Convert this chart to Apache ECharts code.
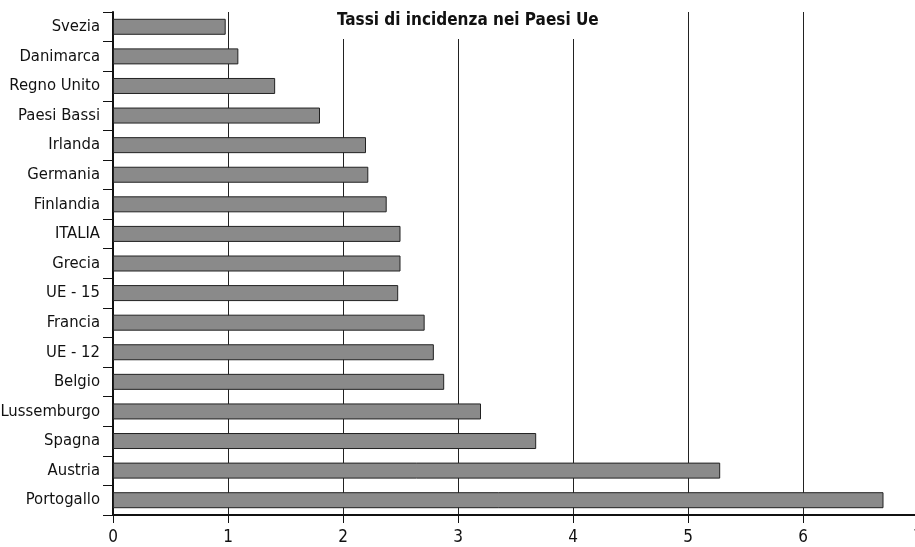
<!DOCTYPE html>
<html><head><meta charset="utf-8">
<script src="https://cdn.jsdelivr.net/npm/echarts@6/dist/echarts.min.js"></script>
<style>html,body{margin:0;padding:0;background:#fff}#c{width:915px;height:547px}</style>
</head><body><div id="c"></div>
<script>
const categories = ['Svezia','Danimarca','Regno Unito','Paesi Bassi','Irlanda','Germania','Finlandia','ITALIA','Grecia','UE - 15','Francia','UE - 12','Belgio','Lussemburgo','Spagna','Austria','Portogallo'];
const values = [0.98,1.09,1.41,1.80,2.20,2.22,2.38,2.50,2.50,2.48,2.71,2.79,2.88,3.20,3.68,5.28,6.70];
const xTicks = [0,1,2,3,4,5,6,7];
const titleText = 'Tassi di incidenza nei Paesi Ue';
const FONT = '"Liberation Sans Narrow","DejaVu Sans Condensed",sans-serif';
const chart = echarts.init(document.getElementById('c'));
chart.setOption({
  animation:false,
  backgroundColor:'#fff',
  title:{text:titleText,left:333,top:9,backgroundColor:'#fff',padding:[3,4,10,4],
    textStyle:{fontFamily:FONT,fontWeight:'bold',fontSize:17,color:'#111'}},
  grid:{left:113,right:-3,top:12,bottom:32,containLabel:false,outerBoundsMode:'none'},
  xAxis:{type:'value',min:xTicks[0],max:xTicks[xTicks.length-1],interval:1,
    axisLine:{show:true,lineStyle:{color:'#111',width:2}},
    axisTick:{show:true,length:8,lineStyle:{color:'#111'}},
    axisLabel:{fontFamily:FONT,fontSize:17,color:'#111',margin:14,formatter:v=>String(v)},
    splitLine:{show:true,lineStyle:{color:'#222',width:1}}},
  yAxis:{type:'category',data:categories,inverse:true,
    axisLine:{show:true,lineStyle:{color:'#111',width:2}},
    axisTick:{show:true,length:10,lineStyle:{color:'#111'}},
    axisLabel:{fontFamily:FONT,fontSize:16.5,color:'#111',margin:13},
    splitLine:{show:false}},
  series:[{type:'bar',data:values,barWidth:16,
    itemStyle:{color:'#8a8a8a',borderColor:'#222',borderWidth:1}}]
});
</script></body></html>
